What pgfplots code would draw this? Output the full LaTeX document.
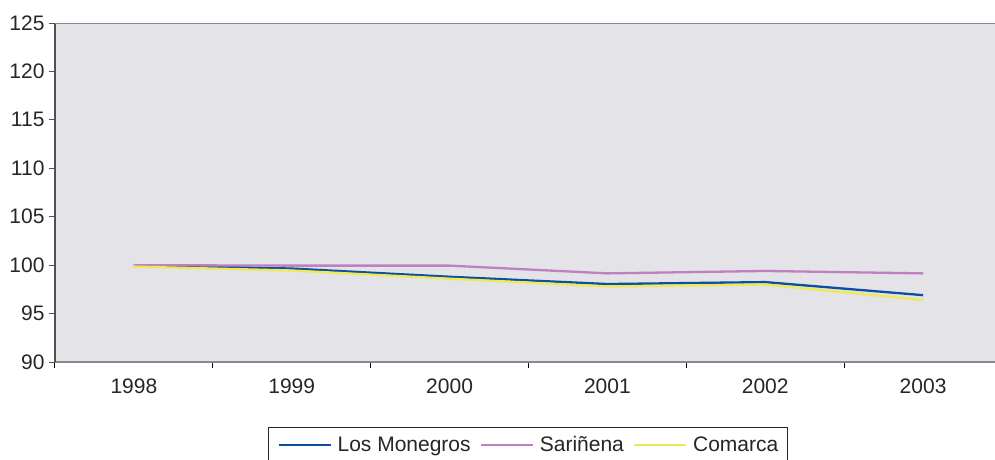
\documentclass[border=0pt]{standalone}
\usepackage{pgfplots}
\pgfplotsset{compat=1.18}
\usepackage{fontspec}
\setmainfont{Liberation Sans}
\definecolor{bgc}{HTML}{E4E3E8}
\definecolor{cblue}{HTML}{0B4EA2}
\definecolor{cpurple}{HTML}{BE80C0}
\definecolor{cyellow}{HTML}{EEEA55}
\definecolor{axgray}{HTML}{8A8A8A}
\definecolor{axdark}{HTML}{505050}
\begin{document}
\begin{tikzpicture}
\useasboundingbox (0,0) rectangle (995pt,459pt);
\begin{axis}[
  at={(55pt,97pt)}, anchor=south west,
  scale only axis, width=947pt, height=339pt,
  xmin=-0.5, xmax=5.5, ymin=90, ymax=125,
  axis background/.style={fill=bgc},
  axis x line*=bottom, axis y line*=left,
  x axis line style={draw=axgray, line width=1.8pt, -},
  y axis line style={draw=axdark, line width=1.3pt, -},
  xtick={0,...,5}, xticklabels={1998,1999,2000,2001,2002,2003},
  minor xtick={-0.5,0.5,1.5,2.5,3.5,4.5},
  major x tick style={draw=none},
  minor tick length=6pt, major tick length=6pt,
  tick align=outside,
  ytick={90,95,...,125},
  y tick style={draw=axdark, line width=1pt},
  x tick style={draw=black, line width=1pt},
  tick label style={font=\fontsize{21}{24}\selectfont, text=black!85},
  /pgf/number format/assume math mode=true,
  xticklabel style={yshift=-7pt},
  yticklabel style={xshift=-1pt},
  legend columns=3,
  legend style={at={(axis description cs:0.2244,-0.1917)}, anchor=north west,
    draw=black!85, line width=0.8pt, fill=white, font=\fontsize{21}{24}\selectfont,
    text=black!85,
    inner xsep=9.5pt, inner ysep=9pt,
    nodes={inner sep=0pt},
    /tikz/every odd column/.append style={column sep=6pt},
    /tikz/every even column/.append style={column sep=9pt}},
  legend image code/.code={\draw[#1, line width=2.2pt] (0pt,0pt) -- (52pt,0pt);},
  legend cell align=left,
]
\draw[axgray, line width=1.5pt] (rel axis cs:0,1) -- (rel axis cs:1,1);
\addplot[cblue, line width=2.3pt] coordinates {(0,100) (1,99.65) (2,98.8) (3,98.05) (4,98.25) (5,96.9)};
\addlegendentry{Los Monegros}
\addplot[cpurple, line width=2.3pt] coordinates {(0,100) (1,99.95) (2,99.95) (3,99.15) (4,99.4) (5,99.15)};
\addlegendentry{Sariñena}
\addplot[cyellow, line width=2.3pt] coordinates {(0,99.85) (1,99.45) (2,98.6) (3,97.8) (4,98.0) (5,96.4)};
\addlegendentry{Comarca}
\end{axis}
\end{tikzpicture}
\end{document}
